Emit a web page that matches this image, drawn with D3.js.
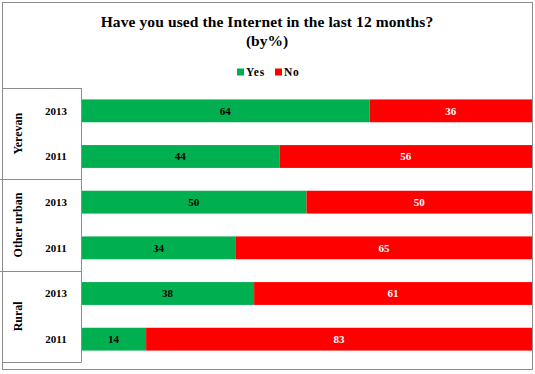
<!DOCTYPE html>
<html>
<head>
<meta charset="utf-8">
<script src="https://d3js.org/d3.v7.min.js"></script>
<style>
  body { margin: 0; background: #fff; }
  text { font-family: "Liberation Serif", "Times New Roman", serif; font-weight: bold; }
</style>
</head>
<body>
<div id="chart"></div>
<script>
// Data
const regions = ["Yerevan", "Other urban", "Rural"];
const years = ["2013", "2011"];
const yesValues = [64, 44, 50, 34, 38, 14];
const noValues = [36, 56, 50, 65, 61, 83];
const seriesNames = ["Yes", "No"];
const seriesColors = ["#00B050", "#FF0000"];
const labelColors = ["#000", "#fff"];

const width = 535, height = 374;
const plot = { left: 81, right: 532, top: 88, bottom: 362 };

const svg = d3.select("#chart")
    .append("svg")
    .attr("width", width)
    .attr("height", height);

// outer border
svg.append("rect")
    .attr("x", 2.5).attr("y", 2.5)
    .attr("width", 530).attr("height", 367)
    .attr("fill", "none")
    .attr("stroke", "#8c8c8c");

// rows: one per region/year
const rows = regions.flatMap((r, i) => years.map((y, j) => ({
    region: r, year: y,
    Yes: yesValues[i * 2 + j], No: noValues[i * 2 + j]
})));
rows.forEach((d, i) => d.key = i);

const y = d3.scaleBand()
    .domain(rows.map(d => d.key))
    .range([plot.top, plot.bottom])
    .paddingInner(0.5)
    .paddingOuter(0.25);

const x = d3.scaleLinear()
    .domain([0, 1])
    .range([plot.left, plot.right]);

// 100% stacked
const stacked = d3.stack()
    .keys(seriesNames)
    .offset(d3.stackOffsetExpand)(rows);

const layers = svg.selectAll("g.layer")
    .data(stacked)
    .enter()
    .append("g")
    .attr("class", "layer");

layers.selectAll("rect")
    .data(d => d)
    .enter()
    .append("rect")
    .attr("x", d => x(d[0]))
    .attr("y", d => y(d.data.key))
    .attr("width", d => x(d[1]) - x(d[0]))
    .attr("height", y.bandwidth())
    .attr("fill", function() { return seriesColors[d3.select(this.parentNode).datum().index]; });

layers.each(function(layer) {
    d3.select(this).selectAll("text")
        .data(layer)
        .enter()
        .append("text")
        .attr("x", d => (x(d[0]) + x(d[1])) / 2)
        .attr("y", d => y(d.data.key) + y.bandwidth() / 2)
        .attr("dy", "0.35em")
        .attr("text-anchor", "middle")
        .style("font-size", "11px")
        .attr("fill", labelColors[layer.index])
        .text(d => d.data[layer.key]);
});

// left table
const step = y.step();
const tableLeft = 3;
const grid = svg.append("g")
    .attr("stroke", "#8c8c8c")
    .attr("fill", "none");
grid.append("line")
    .attr("x1", plot.left + 0.5).attr("x2", plot.left + 0.5)
    .attr("y1", plot.top).attr("y2", plot.bottom);
grid.append("line")
    .attr("x1", tableLeft).attr("x2", plot.left + 0.5)
    .attr("y1", plot.top + 0.5).attr("y2", plot.top + 0.5);
regions.forEach((r, i) => {
    const yb = Math.round(plot.top + (i + 1) * step * 2) + 0.5;
    grid.append("line")
        .attr("x1", i === regions.length - 1 ? tableLeft : 0).attr("x2", plot.left + 0.5)
        .attr("y1", yb).attr("y2", yb);
});

// year labels
svg.selectAll("text.year")
    .data(rows)
    .enter()
    .append("text")
    .attr("class", "year")
    .attr("x", 56)
    .attr("y", d => y(d.key) + y.bandwidth() / 2)
    .attr("dy", "0.35em")
    .attr("text-anchor", "middle")
    .style("font-size", "11px")
    .text(d => d.year);

// region labels (rotated)
svg.selectAll("text.region")
    .data(regions)
    .enter()
    .append("text")
    .attr("class", "region")
    .attr("transform", (d, i) => `translate(18, ${plot.top + (i + 0.5) * step * 2}) rotate(-90)`)
    .attr("dy", "0.35em")
    .attr("text-anchor", "middle")
    .style("font-size", "12px")
    .text(d => d);

// title
svg.append("text")
    .attr("x", 267)
    .attr("y", 27)
    .attr("text-anchor", "middle")
    .style("font-size", "15.5px")
    .style("letter-spacing", "0.1px")
    .text("Have you used the Internet in the last 12 months?");
svg.append("text")
    .attr("x", 267)
    .attr("y", 46)
    .attr("text-anchor", "middle")
    .style("font-size", "15.5px")
    .text("(by%)");

// legend
const legend = svg.append("g")
    .attr("transform", "translate(237, 72)");
const legendItems = legend.selectAll("g")
    .data(seriesNames)
    .enter()
    .append("g")
    .attr("transform", (d, i) => `translate(${i * 38}, 0)`);
legendItems.append("rect")
    .attr("x", 0).attr("y", -3.5)
    .attr("width", 7).attr("height", 7)
    .attr("fill", (d, i) => seriesColors[i]);
legendItems.append("text")
    .attr("x", 9)
    .attr("dy", "0.35em")
    .style("font-size", "11.5px")
    .style("letter-spacing", "0.8px")
    .text(d => d);
</script>
</body>
</html>
